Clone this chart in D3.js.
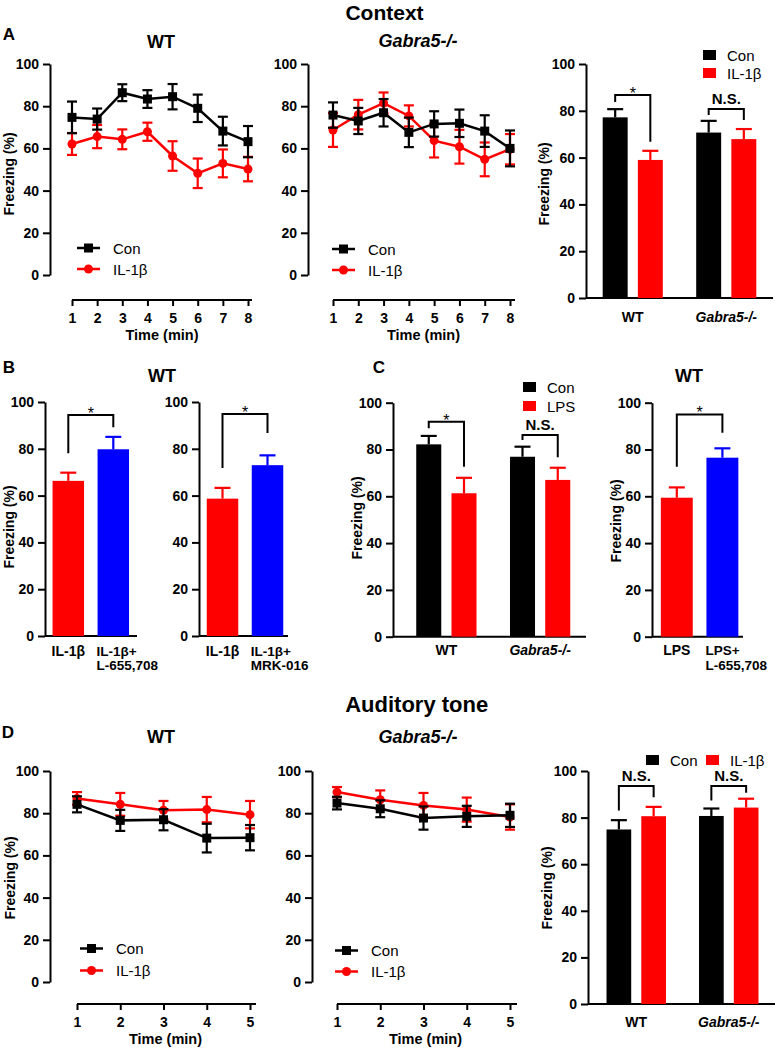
<!DOCTYPE html>
<html><head><meta charset="utf-8">
<script src="https://cdn.jsdelivr.net/npm/d3@7"></script>
<style>
body{margin:0;background:#fff;}
svg text{font-family:'Liberation Sans',Arial,Helvetica,sans-serif;}
</style></head><body><script>
const FONT = "'Liberation Sans', Arial, Helvetica, sans-serif";
const RED = "#ff0000", BLACK = "#000000", BLUE = "#0000ff";

// ---------- data ----------
const yTicks = [0, 20, 40, 60, 80, 100];
const minutesContext = [1, 2, 3, 4, 5, 6, 7, 8];
const minutesTone = [1, 2, 3, 4, 5];

// A: context, WT
const ctxWTCon    = [74.7, 73.9, 86.4, 83.4, 84.5, 79.0, 68.2, 63.2];
const ctxWTConErr = [7.5, 5.0, 4.0, 4.2, 6.0, 6.5, 6.8, 7.4];
const ctxWTIL     = [62.1, 65.6, 64.3, 67.9, 56.4, 48.2, 52.9, 50.2];
const ctxWTILErr  = [5.2, 5.5, 4.7, 4.3, 7.0, 7.0, 6.6, 5.8];
// A: context, Gabra5-/-
const ctxKOCon    = [75.8, 73.0, 76.9, 67.6, 71.6, 71.9, 68.2, 60.0];
const ctxKOConErr = [6.0, 6.2, 6.5, 7.0, 6.0, 6.5, 7.5, 8.5];
const ctxKOIL     = [68.7, 76.0, 81.5, 75.4, 63.7, 60.8, 54.8, 59.6];
const ctxKOILErr  = [8.0, 7.0, 5.0, 5.0, 8.0, 8.0, 8.0, 7.2];
// A: bar summary
const genotypes = ["WT", "Gabra5-/-"];
const ctxBarCon    = [77.2, 70.7];
const ctxBarConErr = [3.5, 5.0];
const ctxBarIL     = [59.0, 67.9];
const ctxBarILErr  = [3.9, 4.3];
// B
const bL655Cats = ["IL-1β", "IL-1β+|L-655,708"];
const bL655Vals = [66.3, 79.8];
const bL655Err  = [3.5, 5.3];
const bMRKCats  = ["IL-1β", "IL-1β+|MRK-016"];
const bMRKVals  = [58.7, 73.0];
const bMRKErr   = [4.6, 4.2];
// C
const lpsCon    = [82.2, 76.9];
const lpsConErr = [3.6, 4.3];
const lpsLPS    = [61.3, 67.0];
const lpsLPSErr = [6.6, 5.2];
const cL655Cats = ["LPS", "LPS+|L-655,708"];
const cL655Vals = [59.4, 76.5];
const cL655Err  = [4.4, 4.0];
// D: auditory tone
const toneWTCon    = [84.2, 76.6, 76.9, 68.2, 68.4];
const toneWTConErr = [3.8, 5.0, 5.0, 6.8, 6.0];
const toneWTIL     = [87.0, 84.2, 81.4, 81.7, 79.3];
const toneWTILErr  = [3.0, 5.4, 4.4, 6.0, 6.5];
const toneKOCon    = [84.8, 82.1, 77.7, 78.5, 79.0];
const toneKOConErr = [3.0, 4.0, 5.5, 5.0, 5.5];
const toneKOIL     = [90.0, 86.4, 83.7, 81.7, 78.2];
const toneKOILErr  = [2.4, 4.4, 5.9, 5.7, 6.0];
const toneBarCon    = [74.9, 80.7];
const toneBarConErr = [4.0, 3.2];
const toneBarIL     = [80.6, 84.3];
const toneBarILErr  = [4.0, 3.8];

// ---------- drawing ----------
const svg = d3.select("body").append("svg")
  .attr("width", 776).attr("height", 1048).style("display", "block")
  .attr("font-family", FONT);

function label(x, y, str, o = {}) {
  const t = svg.append("text").attr("x", x).attr("y", y).text(str)
    .attr("font-size", o.size || 14)
    .attr("font-weight", o.weight || "bold")
    .attr("text-anchor", o.anchor || "middle")
    .attr("fill", "#000");
  if (o.italic) t.attr("font-style", "italic");
  return t;
}
function yLabel(x, cy) {
  svg.append("text").attr("transform", `translate(${x},${cy}) rotate(-90)`)
    .attr("text-anchor", "middle").attr("font-size", 14).attr("font-weight", "bold")
    .text("Freezing (%)");
}
function drawYAxis(x, y) {
  const g = svg.append("g").attr("transform", `translate(${x},0)`)
    .call(d3.axisLeft(y).tickValues(yTicks).tickSize(7).tickSizeOuter(0).tickPadding(4));
  g.attr("font-family", FONT);
  g.select(".domain").attr("stroke", "#000").attr("stroke-width", 2);
  g.selectAll(".tick line").attr("stroke", "#000").attr("stroke-width", 2);
  g.selectAll(".tick text").attr("font-size", 14).attr("font-weight", "bold").attr("fill", "#000");
}

function lineChart(c) {
  const y = d3.scaleLinear().domain([0, 100]).range([c.bottom, c.top]);
  const x = d3.scaleLinear().domain([1, c.xs.length]).range([c.xStart, c.xEnd]);
  drawYAxis(c.axisX, y);
  const gx = svg.append("g").attr("transform", `translate(0,${c.xAxisY})`)
    .call(d3.axisBottom(x).tickValues(c.xs).tickFormat(d3.format("d")).tickSize(6).tickSizeOuter(0).tickPadding(7));
  gx.attr("font-family", FONT);
  gx.select(".domain").attr("d", `M${c.xStart},0H${c.xEnd + c.ext}`).attr("stroke", "#000").attr("stroke-width", 2);
  gx.selectAll(".tick line").attr("stroke", "#000").attr("stroke-width", 2);
  gx.selectAll(".tick text").attr("font-size", 14).attr("font-weight", "bold").attr("fill", "#000");
  label((c.xStart + c.xEnd) / 2 + 2, c.xAxisY + 39.5, "Time (min)", { size: 14.5 });

  c.series.forEach(s => {
    const pts = s.vals.map((v, i) => ({ x: c.xs[i], v, e: s.errs[i] }));
    const g = svg.append("g");
    const eb = g.selectAll(".eb").data(pts).enter().append("g");
    eb.append("line").attr("x1", d => x(d.x)).attr("x2", d => x(d.x))
      .attr("y1", d => y(d.v - d.e)).attr("y2", d => y(d.v + d.e))
      .attr("stroke", s.color).attr("stroke-width", 2.2);
    [-1, 1].forEach(sg => {
      eb.append("line").attr("x1", d => x(d.x) - 5).attr("x2", d => x(d.x) + 5)
        .attr("y1", d => y(d.v + sg * d.e)).attr("y2", d => y(d.v + sg * d.e))
        .attr("stroke", s.color).attr("stroke-width", 2.2);
    });
    g.append("path").datum(pts)
      .attr("d", d3.line().x(d => x(d.x)).y(d => y(d.v)))
      .attr("fill", "none").attr("stroke", s.color).attr("stroke-width", 2.5);
    if (s.shape === "square") {
      g.selectAll(".m").data(pts).enter().append("rect")
        .attr("x", d => x(d.x) - 4.5).attr("y", d => y(d.v) - 4.5)
        .attr("width", 9).attr("height", 9).attr("fill", s.color);
    } else {
      g.selectAll(".m").data(pts).enter().append("circle")
        .attr("cx", d => x(d.x)).attr("cy", d => y(d.v)).attr("r", 4.5).attr("fill", s.color);
    }
  });

  // legend
  c.legend.items.forEach((it, i) => {
    const ly = c.legend.y + i * c.legend.dy, lx = c.legend.x;
    svg.append("line").attr("x1", lx).attr("x2", lx + 23).attr("y1", ly).attr("y2", ly)
      .attr("stroke", it.color).attr("stroke-width", 2.5);
    if (it.shape === "square") {
      svg.append("rect").attr("x", lx + 11.5 - 4.5).attr("y", ly - 4.5).attr("width", 9).attr("height", 9).attr("fill", it.color);
    } else {
      svg.append("circle").attr("cx", lx + 11.5).attr("cy", ly).attr("r", 4.5).attr("fill", it.color);
    }
    label(lx + 36, ly + 5.5, it.name, { size: 15, weight: "normal", anchor: "start" });
  });
}

function drawBarAxis(c, y) {
  drawYAxis(c.axisX, y);
  svg.append("line").attr("x1", c.axisX).attr("x2", c.axisEnd)
    .attr("y1", y(0)).attr("y2", y(0)).attr("stroke", "#000").attr("stroke-width", 2);
}
function drawBar(g, cx, bw, v, e, color, y) {
  g.append("rect").attr("x", cx - bw / 2).attr("y", y(v)).attr("width", bw).attr("height", y(0) - y(v)).attr("fill", color);
  g.append("line").attr("x1", cx).attr("x2", cx).attr("y1", y(v)).attr("y2", y(v + e)).attr("stroke", color).attr("stroke-width", 2.2);
  g.append("line").attr("x1", cx - 8).attr("x2", cx + 8).attr("y1", y(v + e)).attr("y2", y(v + e)).attr("stroke", color).attr("stroke-width", 2.2);
}
function bracket(xa, xb, top, l, r, txt, y) {
  svg.append("path").attr("d", `M${xa},${y(l)}V${y(top)}H${xb}V${y(r)}`)
    .attr("fill", "none").attr("stroke", "#000").attr("stroke-width", 2);
  if (txt === "*") label((xa + xb) / 2, y(top) + 4, "*", { size: 16, weight: "normal" });
  else label((xa + xb) / 2, y(top) - 5, txt, { size: 15 });
}

function groupedBar(c) {
  const y = d3.scaleLinear().domain([0, 100]).range([c.bottom, c.top]);
  const x0 = d3.scaleBand().domain(c.groups).range(c.range).paddingInner(0.357).paddingOuter(0.357 / 2);
  const x1 = d3.scaleBand().domain(c.series.map(s => s.name)).range([0, x0.bandwidth()]).paddingInner(0.29);
  drawBarAxis(c, y);
  const g = svg.append("g");
  c.series.forEach(s => {
    c.groups.forEach((gr, i) => {
      const cx = x0(gr) + x1(s.name) + x1.bandwidth() / 2;
      drawBar(g, cx, x1.bandwidth(), s.vals[i], s.errs[i], s.color, y);
    });
  });
  c.groups.forEach((gr, i) => {
    label(x0(gr) + x0.bandwidth() / 2, y(0) + c.catDy, gr, { size: 14, italic: gr !== "WT" });
    const b = c.brackets[i];
    const xa = x0(gr) + x1(c.series[0].name) + x1.bandwidth() / 2;
    const xb = x0(gr) + x1(c.series[1].name) + x1.bandwidth() / 2;
    bracket(xa, xb, b.top, b.l, b.r, b.txt, y);
  });
  // legend
  c.legend.forEach(it => {
    svg.append("rect").attr("x", it.x).attr("y", it.y - 5).attr("width", 13).attr("height", 10).attr("fill", it.color);
    label(it.x + 24, it.y + 5.5, it.name, { size: 15, weight: "normal", anchor: "start" });
  });
}

function simpleBar(c) {
  const y = d3.scaleLinear().domain([0, 100]).range([c.bottom, c.top]);
  const x = d3.scaleBand().domain(c.cats).range(c.range).paddingInner(0.3).paddingOuter(0.15);
  drawBarAxis(c, y);
  const g = svg.append("g");
  c.cats.forEach((cat, i) => {
    const cx = x(cat) + x.bandwidth() / 2;
    drawBar(g, cx, x.bandwidth(), c.vals[i], c.errs[i], c.colors[i], y);
    const lines = cat.split("|");
    lines.forEach((ln, k) => {
      if (lines.length === 1) label(cx, y(0) + c.catDy, ln, { size: 14 });
      else label(x(cat) - 1, y(0) + c.catDy + k * 14.5, ln, { size: 13.5, anchor: "start" });
    });
  });
  const xa = x(c.cats[0]) + x.bandwidth() / 2, xb = x(c.cats[1]) + x.bandwidth() / 2;
  bracket(xa, xb, c.bracket.top, c.bracket.l, c.bracket.r, "*", y);
}

// ---------- titles ----------
label(384.5, 19.5, "Context", { size: 21 });
label(416.7, 711.5, "Auditory tone", { size: 22 });
label(9, 40, "A", { size: 17 });
label(9, 373, "B", { size: 17 });
label(379, 373, "C", { size: 17 });
label(8, 738, "D", { size: 17 });
label(161, 48, "WT", { size: 18 });
label(418, 47, "Gabra5-/-", { size: 18, italic: true });
label(162, 381.5, "WT", { size: 18 });
label(689, 381.5, "WT", { size: 18 });
label(161, 743, "WT", { size: 18 });
label(418, 743, "Gabra5-/-", { size: 18, italic: true });

const lineLegend = [{ name: "Con", color: BLACK, shape: "square" }, { name: "IL-1β", color: RED, shape: "circle" }];

// A left
lineChart({ axisX: 50, top: 64, bottom: 275, xAxisY: 300, xStart: 72, xEnd: 248, ext: 4, xs: minutesContext,
  series: [
    { vals: ctxWTIL, errs: ctxWTILErr, color: RED, shape: "circle" },
    { vals: ctxWTCon, errs: ctxWTConErr, color: BLACK, shape: "square" }],
  legend: { x: 77, y: 248, dy: 21, items: lineLegend } });
yLabel(14, 174);
// A middle
lineChart({ axisX: 308, top: 64, bottom: 275, xAxisY: 300, xStart: 333, xEnd: 510, ext: 5, xs: minutesContext,
  series: [
    { vals: ctxKOIL, errs: ctxKOILErr, color: RED, shape: "circle" },
    { vals: ctxKOCon, errs: ctxKOConErr, color: BLACK, shape: "square" }],
  legend: { x: 332, y: 249, dy: 21, items: lineLegend } });
// A right
groupedBar({ axisX: 586, axisEnd: 773, top: 64, bottom: 298, range: [586, 773], groups: genotypes, catDy: 24,
  series: [
    { name: "Con", vals: ctxBarCon, errs: ctxBarConErr, color: BLACK },
    { name: "IL-1β", vals: ctxBarIL, errs: ctxBarILErr, color: RED }],
  brackets: [{ top: 86.8, l: 83.8, r: 66.8, txt: "*" }, { top: 80.8, l: 78.2, r: 76.1, txt: "N.S." }],
  legend: [{ x: 703, y: 55, name: "Con", color: BLACK }, { x: 703, y: 73, name: "IL-1β", color: RED }] });
yLabel(549, 184);

// B
simpleBar({ axisX: 45, axisEnd: 137, top: 402, bottom: 636, range: [45.8, 135.8], cats: bL655Cats,
  vals: bL655Vals, errs: bL655Err, colors: [RED, BLUE], catDy: 19.5, bracket: { top: 94.4, l: 78.1, r: 89.2 } });
yLabel(14, 527);
simpleBar({ axisX: 199, axisEnd: 288, top: 402, bottom: 636, range: [200, 290], cats: bMRKCats,
  vals: bMRKVals, errs: bMRKErr, colors: [RED, BLUE], catDy: 19.5, bracket: { top: 94.9, l: 71.8, r: 86.8 } });

// C
groupedBar({ axisX: 393, axisEnd: 586, top: 402.7, bottom: 636.7, range: [399.5, 587], groups: genotypes, catDy: 18,
  series: [
    { name: "Con", vals: lpsCon, errs: lpsConErr, color: BLACK },
    { name: "LPS", vals: lpsLPS, errs: lpsLPSErr, color: RED }],
  brackets: [{ top: 91.9, l: 89.1, r: 72.6, txt: "*" }, { top: 86.2, l: 84.1, r: 76.7, txt: "N.S." }],
  legend: [{ x: 523, y: 387, name: "Con", color: BLACK }, { x: 523, y: 406, name: "LPS", color: RED }] });
yLabel(362, 518);
simpleBar({ axisX: 652, axisEnd: 743, top: 402.7, bottom: 636.7, range: [654, 745.2], cats: cL655Cats,
  vals: cL655Vals, errs: cL655Err, colors: [RED, BLUE], catDy: 18.5, bracket: { top: 95, l: 72.6, r: 87.2 } });
yLabel(621, 521);

// D left
lineChart({ axisX: 50, top: 771, bottom: 982, xAxisY: 1004, xStart: 77, xEnd: 250, ext: 6, xs: minutesTone,
  series: [
    { vals: toneWTIL, errs: toneWTILErr, color: RED, shape: "circle" },
    { vals: toneWTCon, errs: toneWTConErr, color: BLACK, shape: "square" }],
  legend: { x: 80, y: 948.5, dy: 22, items: lineLegend } });
yLabel(15, 878);
// D middle
lineChart({ axisX: 312, top: 771, bottom: 982, xAxisY: 1004, xStart: 337, xEnd: 510, ext: 7, xs: minutesTone,
  series: [
    { vals: toneKOIL, errs: toneKOILErr, color: RED, shape: "circle" },
    { vals: toneKOCon, errs: toneKOConErr, color: BLACK, shape: "square" }],
  legend: { x: 335, y: 950.5, dy: 21, items: lineLegend } });
// D right
groupedBar({ axisX: 588, axisEnd: 775, top: 771, bottom: 1004, range: [590, 775], groups: genotypes, catDy: 23,
  series: [
    { name: "Con", vals: toneBarCon, errs: toneBarConErr, color: BLACK },
    { name: "IL-1β", vals: toneBarIL, errs: toneBarILErr, color: RED }],
  brackets: [{ top: 93.6, l: 83, r: 88.7, txt: "N.S." }, { top: 93.6, l: 87.3, r: 90.7, txt: "N.S." }],
  legend: [{ x: 646, y: 760, name: "Con", color: BLACK }, { x: 706, y: 760, name: "IL-1β", color: RED }] });
yLabel(552, 888);
</script></body></html>
